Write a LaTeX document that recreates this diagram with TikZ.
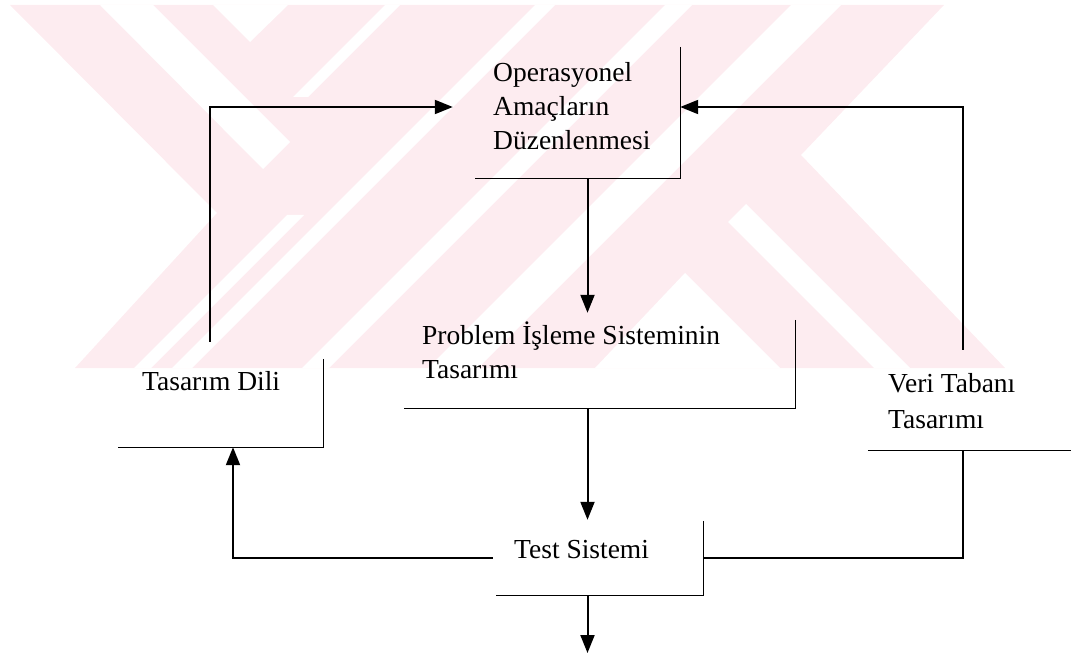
\documentclass[tikz,border=0pt]{standalone}
\usepackage{fontspec}
\setmainfont{Liberation Serif}
\usetikzlibrary{arrows.meta}
\definecolor{wmpink}{RGB}{253,236,240}
\begin{document}
\begin{tikzpicture}[x=1pt,y=-1pt,
  lbl/.style={font=\fontsize{27.5}{34}\selectfont, inner sep=0pt, anchor=base west},
  area/.style={draw=none, inner sep=0pt, rectangle},
  frame/.style={line width=1.3pt, line join=miter},
  link/.style={line width=2pt},
  arr/.style={link, -{Triangle[length=18pt,width=14pt]}}]
\useasboundingbox (0,0) rectangle (1071,655);

% background emblem: pale band with diagonal cut-outs
\fill[wmpink] (10,5) -- (944,5) -- (801,155) -- (1005,368) -- (75,368) -- (217,213) -- cycle;
\fill[white] (100,5) -- (153,5) -- (290,142) -- (263,169) -- cycle;
\fill[white] (213,5) -- (288,5) -- (250,42) -- cycle;
\fill[white] (385,5) -- (400,5) -- (308,97) -- (293,97) -- cycle;
\fill[white] (535,5) -- (555,5) -- (192,368) -- (172,368) -- cycle;
\fill[white] (665,5) -- (692,5) -- (329,368) -- (302,368) -- cycle;
\fill[white] (791,5) -- (841,5) -- (478,368) -- (428,368) -- cycle;
\fill[white] (287,215) -- (304,215) -- (151,368) -- (134,368) -- cycle;
\fill[white] (685,273) -- (595,368) -- (780,368) -- cycle;
\fill[white] (728,222) -- (746,204) -- (910,368) -- (874,368) -- cycle;

% box areas (only the right and lower edges are drawn)
\node[area, minimum width=205pt, minimum height=131pt] (opBox)   at (577.5,112.5) {};
\node[area, minimum width=391pt, minimum height=88pt]  (probBox) at (599.5,364) {};
\node[area, minimum width=205pt, minimum height=88pt]  (tasBox)  at (220.5,403) {};
\node[area, minimum width=203pt, minimum height=90pt]  (veriBox) at (969.5,405) {};
\node[area, minimum width=207pt, minimum height=74pt]  (testBox) at (599.5,558) {};

% labels
\node[lbl] (op1) at (493,82)  {Operasyonel};
\node[lbl] (op2) at (493,116) {Amaçların};
\node[lbl] (op3) at (493,150) {Düzenlenmesi};
\node[lbl] (pr1) at (422,344) {Problem İşleme Sisteminin};
\node[lbl] (pr2) at (422,378) {Tasarımı};
\node[lbl] (tas) at (142,390) {Tasarım Dili};
\node[lbl] (ve1) at (888,392) {Veri Tabanı};
\node[lbl] (ve2) at (888,428) {Tasarımı};
\node[lbl] (tst) at (514,558) {Test Sistemi};

% partial frames
\draw[frame] (opBox.north east) -- (opBox.south east) -- (opBox.south west);
\draw[frame] (probBox.north east) -- (probBox.south east) -- (probBox.south west);
\draw[frame] (tasBox.north east) -- (tasBox.south east) -- (tasBox.south west);
\draw[frame] (testBox.north east) -- (testBox.south east) -- (testBox.south west);
\draw[frame] (veriBox.south west) -- (veriBox.south east);

% reference columns and rows for the connectors
\coordinate (spine) at (587.5,0);
\coordinate (lin)   at (233,0);
\coordinate (lout)  at (210,0);
\coordinate (rcol)  at (963,0);
\coordinate (opRow) at (0,107);
\coordinate (exitT) at (587.5,653);

% main flow
\draw[arr, shorten >=7pt] (opBox.south -| spine) -- (probBox.north -| spine);
\draw[arr, shorten >=1pt] (probBox.south -| spine) -- (testBox.north -| spine);
\draw[arr] (testBox.south -| spine) -- (exitT);

% feedback from the test step
\draw[arr] ([xshift=-3pt]testBox.west) -| (lin |- tasBox.south);
\draw[link] (testBox.east) -| (rcol |- veriBox.south);

% feedback into the first step
\draw[arr] ([yshift=17pt]tasBox.north -| lout) |- ([xshift=-22pt]opBox.west |- opRow);
\draw[arr] ([yshift=10pt]veriBox.north -| rcol) |- (opBox.east |- opRow);
\end{tikzpicture}
\end{document}
